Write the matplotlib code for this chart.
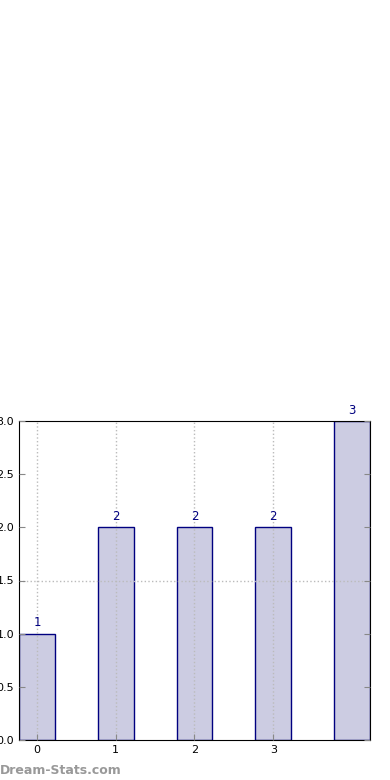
import matplotlib.pyplot as plt

positions = [0, 1, 2, 3, 4]
values = [1, 2, 2, 2, 3]
xtick_pos = [0, 1, 2, 3]
xtick_labels = ["0", "1", "2", "3"]
ytick_pos = [0.0, 0.5, 1.0, 1.5, 2.0, 2.5, 3.0]

fig = plt.figure(figsize=(3.9, 7.8), dpi=100)
ax = fig.add_axes([19 / 390, 1 - 740 / 780, 351 / 390, 319 / 780])

ax.bar(positions, values, width=0.45, color="#ccccE2",
       edgecolor="#000080", linewidth=1.0)
for p, v in zip(positions, values):
    ax.text(p, v + 0.04, str(v), ha="center", va="bottom", color="#000080", fontsize=8.5)

ax.set_xlim(-0.23, 4.23)
ax.set_ylim(0, 3)
ax.set_xticks(xtick_pos)
ax.set_xticklabels(xtick_labels)
ax.set_yticks(ytick_pos)
ax.tick_params(direction="in", labelsize=8, length=4, color="#888888",
               top=False, right=True)
ax.xaxis.grid(True, linestyle=":", color="#bbbbbb", linewidth=1.0)
ax.axhline(1.5, linestyle=":", color="#bbbbbb", linewidth=1.0)
ax.set_axisbelow(False)

fig.text(0.0, 1 - 770 / 780, "Dream-Stats.com", color="#999999", fontsize=9,
         fontweight="bold", ha="left", va="center")

fig.savefig("out.png", dpi=100)
